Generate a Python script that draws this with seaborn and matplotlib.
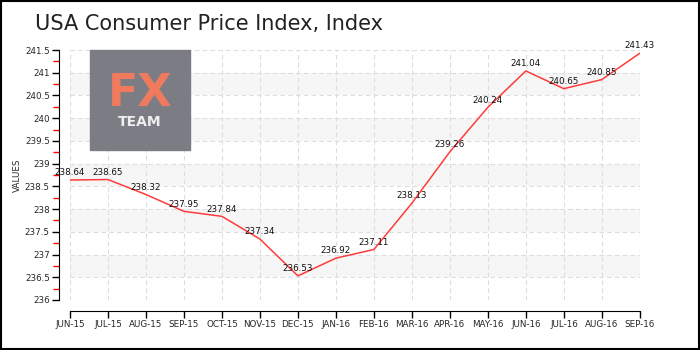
import matplotlib
matplotlib.use("Agg")
import matplotlib.pyplot as plt
import seaborn as sns
import pandas as pd
import numpy as np
from matplotlib.ticker import MultipleLocator
from matplotlib.patches import Rectangle

months = ["JUN-15", "JUL-15", "AUG-15", "SEP-15", "OCT-15", "NOV-15", "DEC-15", "JAN-16",
          "FEB-16", "MAR-16", "APR-16", "MAY-16", "JUN-16", "JUL-16", "AUG-16", "SEP-16"]
values = [238.64, 238.65, 238.32, 237.95, 237.84, 237.34, 236.53, 236.92,
          237.11, 238.13, 239.26, 240.24, 241.04, 240.65, 240.85, 241.43]
yticks = [236, 236.5, 237, 237.5, 238, 238.5, 239, 239.5, 240, 240.5, 241, 241.5]
ytick_labels = ["236", "236.5", "237", "237.5", "238", "238.5", "239", "239.5", "240", "240.5", "241", "241.5"]

df = pd.DataFrame({"pos": np.arange(len(months)), "month": months, "value": values})

sns.set_style("white")
plt.rcParams["xtick.labelsize"] = 6.3
plt.rcParams["ytick.labelsize"] = 6.3
fig = plt.figure(figsize=(7, 3.5), dpi=100)
ax = fig.add_axes([0.1, 0.143, 0.814, 0.714])

# spines first (set_position resets ticks)
for s in ["top", "right"]:
    ax.spines[s].set_visible(False)
ax.spines["left"].set_position(("outward", 8))
ax.spines["bottom"].set_position(("outward", 8))
ax.spines["left"].set_color("black")
ax.spines["bottom"].set_color("black")

# alternating bands
for lo in [236.5, 237.5, 238.5, 239.5, 240.5]:
    ax.axhspan(lo, lo + 0.5, color="#f6f6f6", zorder=0, lw=0)

sns.lineplot(data=df, x="pos", y="value", ax=ax, color="#ff3b3b", lw=1.1, zorder=3)

for p, v in zip(df["pos"], df["value"]):
    ax.annotate(f"{v:.2f}", (p, v), xytext=(0, 2), textcoords="offset points",
                ha="center", va="bottom", fontsize=6.3, color="#111111", zorder=4)

ax.set_xlim(0, len(months) - 1)
ax.set_ylim(236, 241.5)
ax.set_xticks(df["pos"])
ax.set_xticklabels(months)
ax.set_yticks(yticks)
ax.set_yticklabels(ytick_labels)
ax.yaxis.set_minor_locator(MultipleLocator(0.25))
ax.tick_params(axis="y", which="minor", length=4, color="red", width=1, left=True)
ax.tick_params(axis="both", which="major", length=5, color="black", width=1, pad=1.5,
               labelsize=6.3, left=True, bottom=True)
ax.grid(True, which="major", color="#dddddd", linestyle=(0, (4, 3)), lw=0.8)
ax.set_axisbelow(True)
ax.set_xlabel("")
ax.set_ylabel("VALUES", fontsize=6.3, labelpad=2)

fig.text(0.05, 0.93, "USA Consumer Price Index, Index", fontsize=15, color="#222222",
         ha="left", va="center")

# logo
fig.patches.append(Rectangle((90 / 700, 1 - 150 / 350), 100 / 700, 100 / 350,
                             transform=fig.transFigure, color="#7b7c84", zorder=5))
fig.text(140 / 700, 1 - 94 / 350, "FX", fontsize=32, color="#f07a5e", ha="center",
         va="center", fontweight="bold", zorder=6)
fig.text(140 / 700, 1 - 122 / 350, "TEAM", fontsize=10, color="#eeeeee", ha="center",
         va="center", fontweight="bold", zorder=6)

# border
fig.patches.append(Rectangle((0.001, 0.002), 0.997, 0.995, transform=fig.transFigure,
                             fill=False, edgecolor="black", lw=1.5, zorder=10))

fig.savefig("out.png", dpi=100)
